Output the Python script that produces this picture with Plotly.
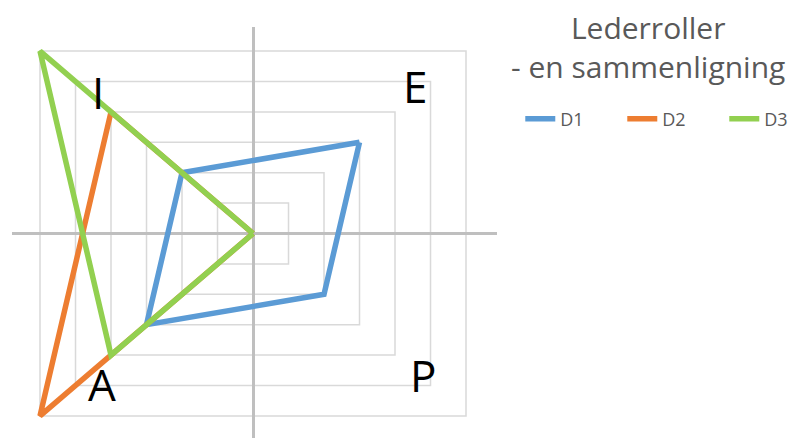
import plotly.graph_objects as go

# ---- data ----
categories = ["E", "P", "A", "I"]
series_names = ["D1", "D2", "D3"]
d1 = [3, 2, 3, 2]
d2 = [0, 0, 6, 4]
d3 = [0, 0, 4, 6]
grid_levels = [1, 2, 3, 4, 5, 6]
title_lines = ["Lederroller", "- en sammenligning"]

# ---- styling ----
colors = ["#5b9bd5", "#ed7d31", "#92d050"]
# each category lies on a diagonal of the square grid
directions = {"E": (1, 1), "P": (1, -1), "A": (-1, -1), "I": (-1, 1)}
label_pos = {"E": (4.55, 4.85), "P": (4.79, -4.66), "A": (-4.25, -4.96), "I": (-4.37, 4.65)}

fig = go.Figure()

for name, vals, col in zip(series_names, [d1, d2, d3], colors):
    xs = [v * directions[c][0] for c, v in zip(categories, vals)]
    ys = [v * directions[c][1] for c, v in zip(categories, vals)]
    xs.append(xs[0])
    ys.append(ys[0])
    fig.add_trace(go.Scatter(
        x=xs, y=ys, mode="lines", name=name,
        line=dict(color=col, width=5.5),
        hoverinfo="skip",
    ))

shapes = []
for g in grid_levels:
    shapes.append(dict(
        type="rect", xref="x", yref="y", x0=-g, x1=g, y0=-g, y1=g,
        line=dict(color="#d9d9d9", width=1.5), fillcolor="rgba(0,0,0,0)",
        layer="below",
    ))

annotations = []
for c in categories:
    annotations.append(dict(
        x=label_pos[c][0], y=label_pos[c][1], xref="x", yref="y",
        text=c, showarrow=False,
        font=dict(family="Open Sans", size=44, color="#000000"),
        xanchor="center", yanchor="middle",
    ))

annotations.append(dict(
    x=1.311, y=1.054, xref="paper", yref="paper",
    text="<br>".join(title_lines), showarrow=False,
    xanchor="center", yanchor="top", align="center",
    font=dict(family="Open Sans", size=30, color="#595959"),
))

fig.update_layout(
    width=800, height=430,
    margin=dict(l=4, r=311, t=19, b=0, autoexpand=False),
    paper_bgcolor="white", plot_bgcolor="white",
    shapes=shapes, annotations=annotations,
    xaxis=dict(range=[-6.789, 6.873], showgrid=False, showticklabels=False,
               zeroline=True, zerolinecolor="#bfbfbf", zerolinewidth=3,
               showline=False, ticks="", fixedrange=True),
    yaxis=dict(range=[-6.727, 6.793], showgrid=False, showticklabels=False,
               zeroline=True, zerolinecolor="#bfbfbf", zerolinewidth=3,
               showline=False, ticks="", fixedrange=True),
    legend=dict(
        orientation="h", x=1.048, xanchor="left", y=0.776, yanchor="middle",
        font=dict(family="Open Sans", size=18, color="#595959"),
        entrywidth=57, entrywidthmode="pixels",
        bgcolor="rgba(0,0,0,0)", borderwidth=0,
    ),
    showlegend=True,
)

fig.write_html("out.html")
